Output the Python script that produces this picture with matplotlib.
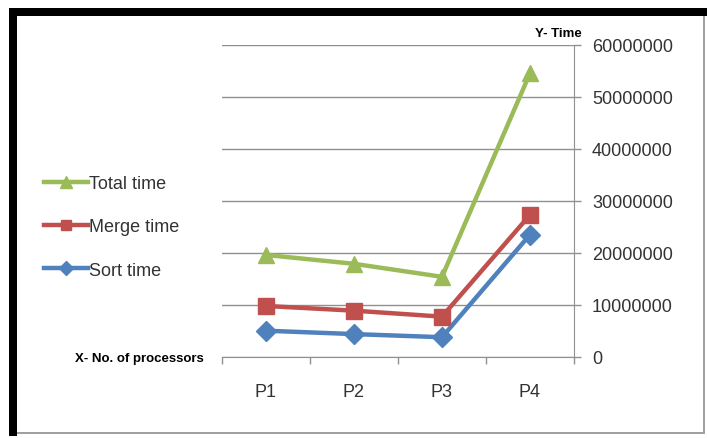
import matplotlib.pyplot as plt
import matplotlib.patches as patches
import numpy as np

plt.rcParams['font.family'] = ['Liberation Sans', 'DejaVu Sans']

processors = ['P1', 'P2', 'P3', 'P4']
sort_time = [5050000, 4400000, 3800000, 23500000]
merge_time = [9800000, 8900000, 7750000, 27300000]
total_time = [19600000, 17900000, 15400000, 54500000]
y_ticks = [0, 10000000, 20000000, 30000000, 40000000, 50000000, 60000000]

W, H = 707, 439
fig = plt.figure(figsize=(W / 100, H / 100), dpi=100)

# frame: thick black on top/left, thin grey on right/bottom
def px_rect(x0, y0, x1, y1, color):
	fig.patches.append(patches.Rectangle((x0 / W, 1 - y1 / H), (x1 - x0) / W, (y1 - y0) / H,
		transform=fig.transFigure, color=color, zorder=0, linewidth=0))

px_rect(9, 9, 707, 17, 'black')
px_rect(9, 9, 17, 437, 'black')
px_rect(703, 17, 705, 435, '#a0a0a0')
px_rect(17, 433, 705, 435, '#a0a0a0')

ax = fig.add_axes([222 / W, 1 - 358 / H, (574 - 222) / W, (358 - 45.6) / H])
x = np.arange(len(processors))

ax.plot(x, sort_time, color='#4f81bd', lw=3.2, marker='D', ms=10, label='Sort time', zorder=3)
ax.plot(x, merge_time, color='#c0504d', lw=3.2, marker='s', ms=11, label='Merge time', zorder=3)
ax.plot(x, total_time, color='#9bbb59', lw=3.2, marker='^', ms=12, label='Total time', zorder=3)

ax.set_xlim(-0.5, 3.5)
ax.set_ylim(0, 60000000)
ax.set_yticks(y_ticks)
ax.set_yticklabels([str(v) for v in y_ticks], fontsize=13, color='#333333')
ax.yaxis.tick_right()
ax.tick_params(axis='y', length=5, width=1, color='#909090', pad=8)
ax.grid(axis='y', color='#909090', lw=1)
ax.set_axisbelow(True)

ax.set_xticks(x)
ax.set_xticklabels(processors, fontsize=13, color='#333333')
ax.set_xticks(np.arange(-0.5, 4, 1), minor=True)
ax.tick_params(axis='x', which='major', length=0, pad=19)
ax.tick_params(axis='x', which='minor', length=5, width=1, color='#909090', direction='out')

for s in ['left', 'top']:
	ax.spines[s].set_visible(False)
ax.spines['right'].set_color('#909090')
ax.spines['bottom'].set_color('#909090')

h, l = ax.get_legend_handles_labels()
ax.legend(h[::-1], l[::-1], loc='upper left', bbox_to_anchor=(28 / W, 1 - 160 / H),
	bbox_transform=fig.transFigure, frameon=False, fontsize=13, handlelength=2.4,
	handletextpad=0.1, labelspacing=1.45, markerscale=0.7, labelcolor='#333333')

fig.text(535 / W, 1 - 34 / H, 'Y- Time', fontsize=9.5, fontweight='bold', va='center')
fig.text(75 / W, 1 - 359 / H, 'X- No. of processors', fontsize=9.5, fontweight='bold', va='center')

fig.savefig('out.png', dpi=100)
